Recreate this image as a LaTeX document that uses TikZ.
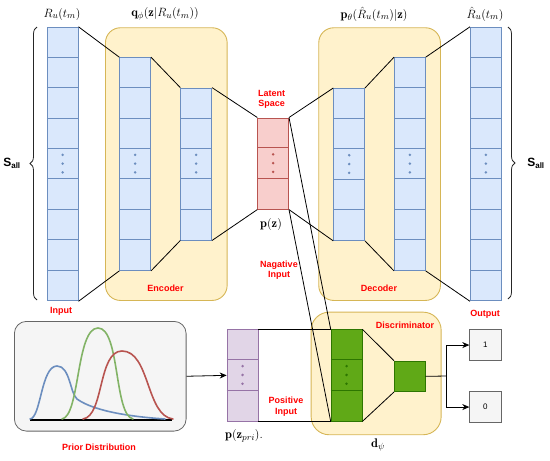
\documentclass[tikz,border=0pt]{standalone}
\usepackage{fontspec}
\setsansfont{Liberation Sans}
\usetikzlibrary{arrows.meta,decorations.pathreplacing}
\definecolor{blueF}{HTML}{DAE8FC}
\definecolor{blueD}{HTML}{6C8EBF}
\definecolor{redF}{HTML}{F8CECC}
\definecolor{redD}{HTML}{B85450}
\definecolor{purF}{HTML}{E1D5E7}
\definecolor{purD}{HTML}{9673A6}
\definecolor{grnF}{HTML}{60A917}
\definecolor{grnD}{HTML}{2D7600}
\definecolor{yelF}{HTML}{FFF2CC}
\definecolor{yelD}{HTML}{D6B656}
\definecolor{gryF}{HTML}{F5F5F5}
\definecolor{gryD}{HTML}{666666}
\definecolor{curveG}{HTML}{82B366}
\definecolor{labred}{HTML}{FF0000}
\def\cellh{30.4pt}
\newcommand\mkcol[7]{%
  \node[cellbox, draw=#7, fill=#6, minimum height=#4*\cellh, anchor=north west] (#1) at (#2,#3) {};
  \pgfmathtruncatemacro\ncm{#4-1}
  \foreach \i in {1,...,\ncm} \draw[draw=#7, line width=0.9pt] ([yshift={-\i*\cellh}]#1.north west) -- ([yshift={-\i*\cellh}]#1.north east);
  \foreach \j in {-1,0,1} \fill[#7] ([yshift={-((#5-0.5)*\cellh)+\j*8.8pt}]#1.north) circle (1.4pt);
}
\begin{document}
\begin{tikzpicture}[x=1pt,y=-1pt,
  cellbox/.style={rectangle, inner sep=0pt, minimum width=30.8pt, line width=0.9pt},
  ybox/.style={rectangle, draw=yelD, fill=yelF, line width=0.9pt, rounded corners=15pt, inner sep=0pt, anchor=north west},
  gbox/.style={rectangle, draw=gryD, fill=gryF, line width=0.8pt, inner sep=0pt, anchor=north west},
  conn/.style={draw=black, line width=0.8pt},
  arr/.style={conn, -{Stealth[length=7pt,width=6pt]}},
  lab/.style={font=\sffamily\bfseries\fontsize{9}{10.5}\selectfont, text=labred, align=center, inner sep=0pt},
  mlab/.style={font=\fontsize{12.5}{14}\selectfont, inner sep=0pt},
  brc/.style={draw=black!85, line width=0.8pt, decorate, decoration={brace, amplitude=7pt}},
  curve/.style={line width=1.6pt, line cap=round}
]
\useasboundingbox (0,0) rectangle (550,461);

% group boxes
\node[ybox, minimum width=121.7pt, minimum height=272.7pt] (enc) at (105,27.3) {};
\node[ybox, minimum width=121.7pt, minimum height=272.7pt] (dec) at (318.3,27.3) {};
\node[ybox, minimum width=130pt, minimum height=122.6pt, rounded corners=18pt] (disc) at (310.7,311.7) {};
\node[gbox, minimum width=171.7pt, minimum height=109.7pt, rounded corners=12pt] (prior) at (14,321) {};

% columns
\mkcol{in}{46.8}{26.8}{9}{5}{blueF}{blueD}
\mkcol{ea}{119.3}{57.2}{7}{4}{blueF}{blueD}
\mkcol{eb}{180.3}{87.6}{5}{3}{blueF}{blueD}
\mkcol{lat}{257.3}{117.5}{3}{2}{redF}{redD}
\mkcol{da}{333.3}{88}{5}{3}{blueF}{blueD}
\mkcol{db}{394}{57.2}{7}{4}{blueF}{blueD}
\mkcol{out}{470}{26.8}{9}{5}{blueF}{blueD}
\mkcol{pz}{226.7}{329.3}{3}{2}{purF}{purD}
\mkcol{g}{330.7}{329.3}{3}{2}{grnF}{grnD}
\node[cellbox, draw=grnD, fill=grnF, minimum height=30.4pt, anchor=north west] (gs) at (394,360.7) {};
\node[gbox, minimum width=31.4pt, minimum height=30.7pt] (o1) at (469.3,329.3) {\sffamily\fontsize{8}{9}\selectfont 1};
\node[gbox, minimum width=31.4pt, minimum height=30.7pt] (o0) at (469.3,391.3) {\sffamily\fontsize{8}{9}\selectfont 0};

% connectors encoder / decoder
\draw[conn] (in.north east) -- (ea.north west);
\draw[conn] (ea.north east) -- (eb.north west);
\draw[conn] (eb.north east) -- (lat.north west);
\draw[conn] (in.south east) -- (ea.south west);
\draw[conn] (ea.south east) -- (eb.south west);
\draw[conn] (eb.south east) -- (lat.south west);
\draw[conn] (lat.north east) -- (da.north west);
\draw[conn] (da.north east) -- (db.north west);
\draw[conn] (db.north east) -- (out.north west);
\draw[conn] (lat.south east) -- (da.south west);
\draw[conn] (da.south east) -- (db.south west);
\draw[conn] (db.south east) -- (out.south west);
% negative / positive inputs
\draw[conn] (lat.north east) -- (g.north west);
\draw[conn] (lat.south east) -- (g.south west);
\draw[conn] (pz.north east) -- (g.north west);
\draw[conn] (pz.south east) -- (g.south west);
% discriminator
\draw[conn] (g.north east) -- (gs.north west);
\draw[conn] (g.south east) -- (gs.south west);
\coordinate (sp) at (446.7,376);
\draw[conn] (gs.east) -- (sp);
\draw[arr] (sp) |- (o1.west);
\draw[arr] (sp) |- (o0.west);
\draw[arr] (prior.east) -- (pz.west);

% prior curves
\draw[line width=2pt] (30,419.5) -- (172,419.5);
\draw[curve, blueD] (30,419) .. controls (41,418) and (41,366) .. (57,366)
  .. controls (70,366) and (70,393) .. (77,399) .. controls (95,412) and (135,417) .. (165,419);
\draw[curve, curveG] (62,419) .. controls (80,416) and (76,328) .. (98,328)
  .. controls (120,328) and (114,415) .. (133,419);
\draw[curve, redD] (83,419) .. controls (104,416) and (98,351) .. (122,351)
  .. controls (150,351) and (146,416) .. (173,419);

% braces
\coordinate (lbB) at (37,300);
\coordinate (lbT) at (37,27);
\draw[brc] (lbB) -- (lbT);
\coordinate (rbT) at (508,27);
\coordinate (rbB) at (508,299);
\draw[brc] (rbT) -- (rbB);
\node[font=\sffamily\bfseries\fontsize{12}{14}\selectfont, inner sep=0pt] (sl) at (12,163) {S\textsubscript{all}};
\node[font=\sffamily\bfseries\fontsize{12}{14}\selectfont, inner sep=0pt] (sr) at (536,163) {S\textsubscript{all}};

% math labels
\node[mlab] (l1) at (62,14) {$R_u(t_m)$};
\node[mlab] (l2) at (165,14) {$\mathbf{q}_\phi(\mathbf{z}|R_u(t_m))$};
\node[mlab] (l3) at (374,14) {$\mathbf{p}_\theta(\hat{R}_u(t_m)|\mathbf{z})$};
\node[mlab] (l4) at (485,14) {$\hat{R}_u(t_m)$};
\node[mlab] (l5) at (271,224) {$\mathbf{p}(\mathbf{z})$};
\node[mlab] (l6) at (244,436) {$\mathbf{p}(\mathbf{z}_{pri}).$};
\node[mlab] (l7) at (378,445) {$\mathbf{d}_\psi$};

% red labels
\node[lab] (t1) at (271.7,99.5) {Latent\\Space};
\node[lab] (t2) at (165.5,288) {Encoder};
\node[lab] (t3) at (379,288) {Decoder};
\node[lab] (t4) at (61,311) {Input};
\node[lab] (t5) at (485,314) {Output};
\node[lab] (t6) at (279,270) {Nagative\\Input};
\node[lab] (t7) at (286,406.5) {Positive\\Input};
\node[lab] (t8) at (405,325) {Discriminator};
\node[lab] (t9) at (99,447.5) {Prior Distribution};
\end{tikzpicture}
\end{document}
